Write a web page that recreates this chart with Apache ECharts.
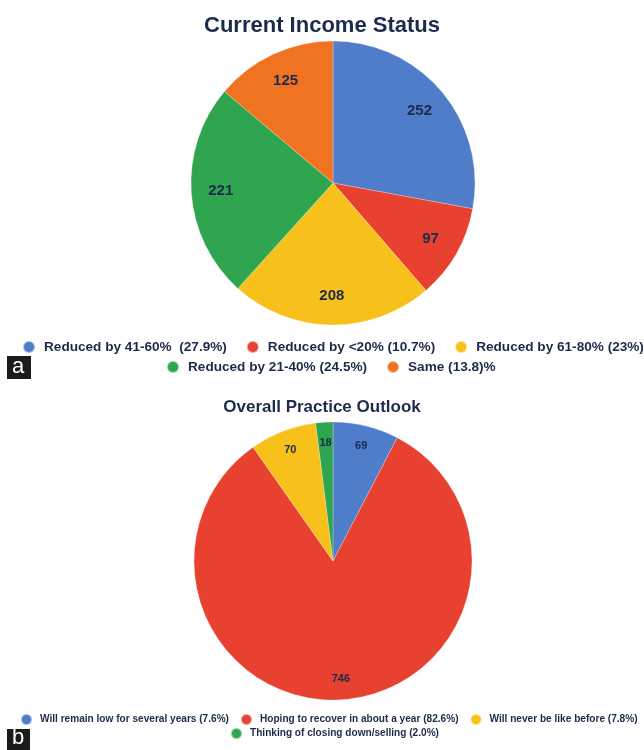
<!DOCTYPE html>
<html>
<head>
<meta charset="utf-8">
<script src="https://cdn.jsdelivr.net/npm/echarts@6/dist/echarts.min.js"></script>
<style>
html,body{margin:0;padding:0;background:#fff;}
#chart{width:644px;height:750px;}
</style>
</head>
<body>
<div id="chart"></div>
<script>
// Chart a: Current Income Status
const titleA = 'Current Income Status';
const categoriesA = ['Reduced by 41-60%  (27.9%)', 'Reduced by <20% (10.7%)', 'Reduced by 61-80% (23%)', 'Reduced by 21-40% (24.5%)', 'Same (13.8)%'];
const valuesA = [252, 97, 208, 221, 125];

// Chart b: Overall Practice Outlook
const titleB = 'Overall Practice Outlook';
const categoriesB = ['Will remain low for several years (7.6%)', 'Hoping to recover in about a year (82.6%)', 'Will never be like before (7.8%)', 'Thinking of closing down/selling (2.0%)'];
const valuesB = [69, 746, 70, 18];

const panelLetters = ['a', 'b'];

const colorsA = ['#4f7dc9', '#e8412f', '#f8c01b', '#2fa54f', '#f07322'];
const colorsB = ['#4f7dc9', '#e8412f', '#f8c01b', '#2fa54f'];
const navy = '#1c2b4b';
const font = '"Liberation Sans", Arial, sans-serif';

function mk(cats, vals, cols) {
  return cats.map((c, i) => ({ name: c, value: vals[i], itemStyle: { color: cols[i] } }));
}
function mkLbl(cats, vals) {
  return cats.map((c, i) => ({ name: c, value: vals[i] }));
}

const chart = echarts.init(document.getElementById('chart'), null, { renderer: 'canvas' });

const legendCommon = {
  icon: 'circle',
  selectedMode: false,
  orient: 'horizontal',
  padding: 0,
  width: 640
};

const option = {
  backgroundColor: '#ffffff',
  animation: false,
  title: [
    { text: titleA, left: 'center', top: 10, textStyle: { fontFamily: font, fontWeight: 'bold', fontSize: 22, color: navy } },
    { text: titleB, left: 'center', top: 394, textStyle: { fontFamily: font, fontWeight: 'bold', fontSize: 17, color: navy } }
  ],
  legend: [
    Object.assign({}, legendCommon, { left: 22, top: 340, itemGap: 19, itemWidth: 12, itemHeight: 12, data: categoriesA.slice(0, 3), textStyle: { fontFamily: font, fontWeight: 'bold', fontSize: 13.6, color: navy, padding: [0, 0, 0, 4] } }),
    Object.assign({}, legendCommon, { left: 166, top: 360, itemGap: 19, itemWidth: 12, itemHeight: 12, data: categoriesA.slice(3), textStyle: { fontFamily: font, fontWeight: 'bold', fontSize: 13.6, color: navy, padding: [0, 0, 0, 4] } }),
    Object.assign({}, legendCommon, { left: 20, top: 713, itemGap: 11, itemWidth: 11, itemHeight: 11, data: categoriesB.slice(0, 3), textStyle: { fontFamily: font, fontWeight: 'bold', fontSize: 10.1, color: navy, padding: [0, 0, 0, 3] } }),
    Object.assign({}, legendCommon, { left: 230, top: 727, itemGap: 11, itemWidth: 11, itemHeight: 11, data: categoriesB.slice(3), textStyle: { fontFamily: font, fontWeight: 'bold', fontSize: 10.1, color: navy, padding: [0, 0, 0, 3] } })
  ],
  series: [
    {
      type: 'pie', center: [333, 183], radius: [0, 142], startAngle: 90, clockwise: true,
      label: { show: false }, labelLine: { show: false }, silent: true,
      itemStyle: { borderColor: 'rgba(255,255,255,0.5)', borderWidth: 0.5 },
      data: mk(categoriesA, valuesA, colorsA)
    },
    {
      type: 'pie', center: [333, 183], radius: [77, 142], startAngle: 90, clockwise: true,
      silent: true, labelLine: { show: false },
      itemStyle: { color: 'rgba(0,0,0,0)' },
      label: { show: true, position: 'inside', formatter: '{c}', fontFamily: font, fontWeight: 'bold', fontSize: 15, color: navy },
      data: mkLbl(categoriesA, valuesA)
    },
    {
      type: 'pie', center: [333, 561], radius: [0, 139], startAngle: 90, clockwise: true,
      label: { show: false }, labelLine: { show: false }, silent: true,
      itemStyle: { borderColor: 'rgba(255,255,255,0.5)', borderWidth: 0.5 },
      data: mk(categoriesB, valuesB, colorsB)
    },
    {
      type: 'pie', center: [333, 561], radius: [92, 139], startAngle: 90, clockwise: true,
      silent: true, labelLine: { show: false },
      itemStyle: { color: 'rgba(0,0,0,0)' },
      label: { show: true, position: 'inside', formatter: '{c}', fontFamily: font, fontWeight: 'bold', fontSize: 11, color: navy },
      data: mkLbl(categoriesB, valuesB)
    }
  ],
  graphic: [
    { type: 'rect', left: 7, top: 356, shape: { width: 24, height: 23 }, style: { fill: '#1b1b1b' } },
    { type: 'text', left: 12, top: 356, style: { text: panelLetters[0], fill: '#ffffff', font: '22px ' + font } },
    { type: 'rect', left: 7, top: 729, shape: { width: 23, height: 21 }, style: { fill: '#1b1b1b' } },
    { type: 'text', left: 12, top: 727, style: { text: panelLetters[1], fill: '#ffffff', font: '22px ' + font } }
  ]
};
chart.setOption(option);
</script>
</body>
</html>
